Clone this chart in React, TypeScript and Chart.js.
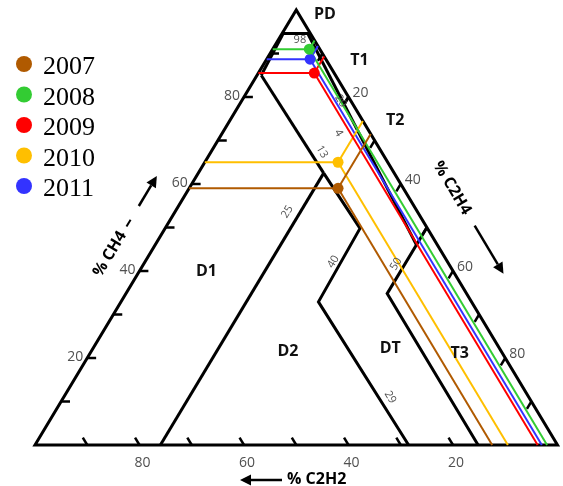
import React, { useEffect, useRef } from 'react';
import { Chart, registerables } from 'chart.js';

Chart.register(...registerables);

// ---- sample results (percent of CH4 / C2H4 / C2H2) ----
const years = ['2007', '2008', '2009', '2010', '2011'];
const yearColors = ['#B05A00', '#33CC33', '#FF0000', '#FFBF00', '#3333FF'];
const ch4Pct = [59, 91, 85.5, 65, 88.7];
const c2h4Pct = [28.5, 7, 10.7, 25.5, 8.3];
const c2h2Pct = [12.5, 2, 3.8, 9.5, 3];

// ---- zone boundaries, vertices as [CH4 %, C2H4 %] ----
const outline = [[0, 0], [0, 100], [100, 0], [0, 0], [0, 100]];
const pdBoundary = [[94.6, 0], [94.6, 5.4]];
const pdInner = [[94.6, 0.2], [85, 0.8]];
const d1Boundary = [[85, 0.8], [62.5, 24]];
const d1d2Boundary = [[62.5, 24], [0, 24]];
const d2dtBoundary = [[62.5, 24], [49.8, 37.3], [32.9, 37.8], [0, 71.5]];
const c2h2FourBoundary = [[94.6, 4.9], [46, 50]];
const t1t2Boundary = [[80, 20], [78.3, 20]];
const t3Boundary = [[50, 50], [34.8, 50], [0, 84.8]];

// ---- axis ticks and labels ----
const ch4Ticks = [10, 20, 30, 40, 50, 60, 70, 80, 90];
const c2h4Ticks = [10, 20, 30, 40, 50, 60, 70, 80, 90];
const c2h2Ticks = [20, 30, 40, 50, 60, 70, 80, 90];
const ch4TickLabels = [20, 40, 60, 80];
const c2h4TickLabels = [20, 40, 60, 80];
const c2h2TickLabels = [80, 60, 40, 20];

const zoneNames = ['PD', 'T1', 'T2', 'D1', 'D2', 'DT', 'T3'];
const boundaryValueLabels = ['98', '13', '25', '40', '29', '50', '4', '20'];

const toXY = (p: number[]) => ({ x: p[1] + p[0] / 2, y: p[0] });

function lineDs(pts: number[][], color: string, width: number) {
  return {
    type: 'scatter' as const,
    data: pts.map(toXY),
    showLine: true,
    borderColor: color,
    backgroundColor: color,
    borderWidth: width,
    pointRadius: 0,
    pointHoverRadius: 0,
    fill: false,
    tension: 0,
    clip: false as any,
    borderCapStyle: 'butt' as const,
    borderJoinStyle: 'miter' as const,
  };
}

const textPlugin = {
  id: 'duvalText',
  afterDatasetsDraw(chart: any) {
    const ctx: CanvasRenderingContext2D = chart.ctx;
    const sx = chart.scales.x;
    const sy = chart.scales.y;
    const dp = (x: number, y: number) => [sx.getPixelForValue(x), sy.getPixelForValue(y)];
    const tp = (ch4: number, c2h4: number) => dp(c2h4 + ch4 / 2, ch4);
    const ang = Math.atan2(sy.getPixelForValue(0) - sy.getPixelForValue(100), sx.getPixelForValue(100) - sx.getPixelForValue(50));

    const text = (s: string, x: number, y: number, font: string, color: string, rot = 0, align: CanvasTextAlign = 'center') => {
      ctx.save();
      ctx.translate(x, y);
      ctx.rotate(rot);
      ctx.font = font;
      ctx.fillStyle = color;
      ctx.textAlign = align;
      ctx.textBaseline = 'middle';
      ctx.fillText(s, 0, 0);
      ctx.restore();
    };
    const arrow = (x0: number, y0: number, x1: number, y1: number) => {
      const a = Math.atan2(y1 - y0, x1 - x0);
      const hl = 11, hw = 5.5;
      const bx = x1 - hl * Math.cos(a), by = y1 - hl * Math.sin(a);
      ctx.save();
      ctx.strokeStyle = '#000';
      ctx.fillStyle = '#000';
      ctx.lineWidth = 2.5;
      ctx.beginPath();
      ctx.moveTo(x0, y0);
      ctx.lineTo(bx, by);
      ctx.stroke();
      ctx.beginPath();
      ctx.moveTo(x1, y1);
      ctx.lineTo(bx + hw * Math.sin(a), by - hw * Math.cos(a));
      ctx.lineTo(bx - hw * Math.sin(a), by + hw * Math.cos(a));
      ctx.closePath();
      ctx.fill();
      ctx.restore();
    };

    const gray = '#505050';
    const numFont = '14px "Open Sans", sans-serif';
    const smallFont = '11px "Open Sans", sans-serif';
    const boldFont = 'bold 16px "Open Sans", sans-serif';

    // axis tick labels
    ch4TickLabels.forEach((v) => {
      const [x, y] = tp(v, 0);
      text(String(v), x - 12, y - 1, numFont, gray);
    });
    c2h4TickLabels.forEach((v) => {
      const [x, y] = tp(100 - v, v);
      text(String(v), x + 12, y - 4, numFont, gray);
    });
    c2h2TickLabels.forEach((v) => {
      const [x, y] = tp(0, 100 - v);
      text(String(v), x + 3, y + 18, numFont, gray);
    });

    // zone names
    const zonePos = [[55.5, 98.9], [62.1, 88.5], [68.95, 74.5], [32.8, 39.8], [48.4, 21.4], [68.0, 22.1], [81.3, 21.1]];
    zoneNames.forEach((z, i) => {
      const [x, y] = dp(zonePos[i][0], zonePos[i][1]);
      text(z, x, y, boldFont, '#111');
    });

    // boundary value labels
    const bPos = [[50.7, 93.1, 0], [54.9, 67.4, 1], [48.3, 53.6, -1], [57.1, 42.1, -1], [68.0, 11.0, 1], [69.1, 41.6, -1], [58.1, 71.7, 1], [58.5, 79.1, 1]];
    boundaryValueLabels.forEach((s, i) => {
      const [x, y] = dp(bPos[i][0], bPos[i][1]);
      text(s, x, y, smallFont, gray, bPos[i][2] * ang);
    });

    // axis titles with arrows
    const ux = Math.cos(-ang), uy = Math.sin(-ang);
    const c1x = 110, c1y = 254;
    text('% CH4', c1x, c1y, boldFont, '#000', -ang);
    ctx.save();
    ctx.strokeStyle = '#000';
    ctx.lineWidth = 2;
    ctx.beginPath();
    ctx.moveTo(c1x + 32 * ux, c1y + 32 * uy);
    ctx.lineTo(c1x + 40 * ux, c1y + 40 * uy);
    ctx.stroke();
    ctx.restore();
    arrow(c1x + 56 * ux, c1y + 56 * uy, c1x + 91 * ux, c1y + 91 * uy);

    const vx = Math.cos(ang), vy = Math.sin(ang);
    const c2x = 452, c2y = 188;
    text('% C2H4', c2x, c2y, boldFont, '#000', ang);
    arrow(c2x + 44 * vx, c2y + 44 * vy, c2x + 100 * vx, c2y + 100 * vy);

    text('% C2H2', 287, 479, boldFont, '#000', 0, 'left');
    arrow(282, 480, 240, 480);

    // legend
    years.forEach((yr, i) => {
      const cy = 65 + i * 30.5;
      ctx.save();
      ctx.fillStyle = yearColors[i];
      ctx.beginPath();
      ctx.arc(24, cy - 1, 8, 0, Math.PI * 2);
      ctx.fill();
      ctx.restore();
      ctx.save();
      ctx.font = '26px "Liberation Serif", "Times New Roman", serif';
      ctx.fillStyle = '#000';
      ctx.textAlign = 'left';
      ctx.textBaseline = 'alphabetic';
      ctx.fillText(yr, 43, cy + 9);
      ctx.restore();
    });
  },
};

export default function App() {
  const ref = useRef<HTMLCanvasElement>(null);

  useEffect(() => {
    const canvas = ref.current;
    if (!canvas) return;

    const datasets: any[] = [];

    // sample points (on top)
    years.forEach((yr, i) => {
      datasets.push({
        type: 'scatter',
        label: yr,
        data: [toXY([ch4Pct[i], c2h4Pct[i]])],
        pointRadius: 5.5,
        pointHoverRadius: 5.5,
        backgroundColor: yearColors[i],
        borderWidth: 0,
        clip: false,
      });
    });

    // reading lines for each sample
    years.forEach((_, i) => {
      const ch4 = ch4Pct[i];
      const c2h4 = c2h4Pct[i];
      const c2h2 = c2h2Pct[i];
      datasets.push(lineDs([[ch4, 0], [ch4, c2h4]], yearColors[i], 2));
      datasets.push(lineDs([[ch4, c2h4], [100 - c2h4, c2h4]], yearColors[i], 2));
      datasets.push(lineDs([[ch4, c2h4], [0, 100 - c2h2]], yearColors[i], 2));
    });

    // zone boundaries
    [pdBoundary, pdInner, d1Boundary, d1d2Boundary, d2dtBoundary, c2h2FourBoundary, t1t2Boundary, t3Boundary].forEach((b) =>
      datasets.push(lineDs(b, '#000', 3))
    );
    datasets.push(lineDs(outline, '#000', 3));

    // ticks
    const tl = 1.7;
    ch4Ticks.forEach((v) => datasets.push(lineDs([[v, 0], [v, tl]], '#000', 2.5)));
    c2h4Ticks.forEach((v) => datasets.push(lineDs([[100 - v, v], [100 - v - tl, v]], '#000', 2.5)));
    c2h2Ticks.forEach((v) => datasets.push(lineDs([[0, 100 - v], [tl, 100 - v - tl]], '#000', 2.5)));

    const chart = new Chart(canvas, {
      type: 'scatter',
      data: { datasets },
      options: {
        responsive: false,
        animation: false,
        events: [],
        layout: { padding: { left: 35, right: 3, top: 10, bottom: 41 } },
        scales: {
          x: { type: 'linear', min: 0, max: 100, display: false },
          y: { type: 'linear', min: 0, max: 100, display: false },
        },
        plugins: {
          legend: { display: false },
          tooltip: { enabled: false },
          title: { display: false },
        },
      },
      plugins: [textPlugin],
    } as any);

    return () => chart.destroy();
  }, []);

  return (
    <div style={{ position: 'absolute', left: 0, top: 0, width: 563, height: 486, background: '#fff' }}>
      <canvas ref={ref} width={563} height={486} style={{ display: 'block', width: 563, height: 486 }} />
    </div>
  );
}
